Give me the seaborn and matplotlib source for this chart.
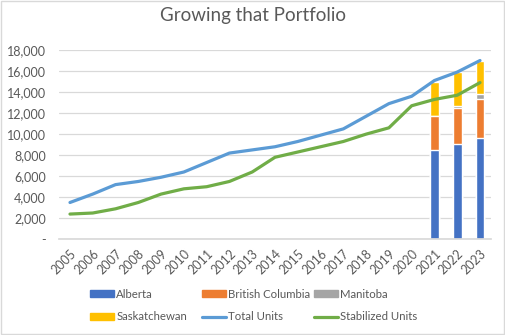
import numpy as np
import pandas as pd
import matplotlib
matplotlib.use("Agg")
import matplotlib.pyplot as plt
import seaborn as sns
from matplotlib.patches import Patch, Rectangle
from matplotlib.lines import Line2D
from matplotlib.ticker import FuncFormatter

years = [str(y) for y in range(2005, 2024)]
total_units = [3500, 4300, 5200, 5500, 5900, 6400, 7300, 8200, 8500, 8800,
               9300, 9900, 10500, 11700, 12900, 13600, 15100, 15900, 17000]
stabilized_units = [2400, 2500, 2900, 3500, 4300, 4800, 5000, 5500, 6400, 7800,
                    8300, 8800, 9300, 10000, 10600, 12700, 13300, 13700, 14900]
bar_years = ["2021", "2022", "2023"]
alberta = [8500, 9050, 9600]
british_columbia = [3250, 3450, 3700]
manitoba = [0, 200, 470]
saskatchewan = [3230, 3170, 3200]

c_ab, c_bc, c_mb, c_sk = "#4472C4", "#ED7D31", "#A5A5A5", "#FFC000"
c_total, c_stab = "#5B9BD5", "#70AD47"
txt = "#595959"

sns.set_theme(style="white")
plt.rcParams['font.family'] = ['Lato', 'DejaVu Sans']

fig = plt.figure(figsize=(5.06, 3.35), dpi=100)
ax = fig.add_axes([58.6 / 506, 1 - 239.3 / 335, (491.4 - 58.6) / 506, (239.3 - 50) / 335])

# stacked bars via cumulative layers (draw tallest first)
stack = np.vstack([alberta, british_columbia, manitoba, saskatchewan]).cumsum(axis=0)
layers = [(stack[3], c_sk), (stack[2], c_mb), (stack[1], c_bc), (stack[0], c_ab)]
for vals, col in layers:
    full = pd.Series(np.nan, index=years)
    full.loc[bar_years] = vals
    df = pd.DataFrame({"year": years, "v": full.values})
    sns.barplot(data=df, x="year", y="v", order=years, color=col, width=0.38,
                saturation=1, ax=ax, zorder=2)

xpos = np.arange(len(years))
sns.lineplot(x=xpos, y=total_units, color=c_total, linewidth=2.3, ax=ax, zorder=3)
sns.lineplot(x=xpos, y=stabilized_units, color=c_stab, linewidth=2.3, ax=ax, zorder=3)

ax.set_xlim(-0.5, len(years) - 0.5)
ax.set_ylim(0, 18000)
ax.set_yticks(np.arange(0, 18001, 2000))
ax.yaxis.set_major_formatter(FuncFormatter(lambda v, p: "-" if v == 0 else f"{int(v):,}"))
ax.set_xticks(xpos)
ax.set_xticklabels(years, rotation=45, ha="right", rotation_mode="anchor")
ax.tick_params(axis="both", labelsize=9, colors=txt, length=0, pad=6)
ax.tick_params(axis="y", pad=9)
ax.grid(axis="y", color="#D9D9D9", linewidth=0.9, zorder=0)
ax.set_axisbelow(True)
ax.set_xlabel("")
ax.set_ylabel("")
for s in ["top", "right", "left"]:
    ax.spines[s].set_visible(False)
ax.spines["bottom"].set_color("#D9D9D9")

fig.suptitle("Growing that Portfolio", x=0.5, y=1 - 15 / 335, va="center",
             fontsize=13.5, color=txt)

handles = [Patch(color=c_ab, label="Alberta"),
           Patch(color=c_bc, label="British Columbia"),
           Patch(color=c_mb, label="Manitoba"),
           Patch(color=c_sk, label="Saskatchewan"),
           Line2D([], [], color=c_total, lw=2.3, label="Total Units"),
           Line2D([], [], color=c_stab, lw=2.3, label="Stabilized Units")]
columns = [(90, [0, 3]), (202, [1, 4]), (314, [2, 5])]
for xpx, idx in columns:
    leg = fig.legend([handles[i] for i in idx], [handles[i].get_label() for i in idx],
                     ncol=1, loc="center left",
                     bbox_to_anchor=(xpx / 506, 1 - 305.5 / 335),
                     frameon=False, fontsize=8.2, handlelength=2.1, handleheight=0.6,
                     handletextpad=0.2, labelspacing=1.05, borderpad=0,
                     borderaxespad=0, labelcolor=txt)

fig.patches.append(Rectangle((0.002, 0.003), 0.995, 0.994, transform=fig.transFigure,
                             fill=False, edgecolor="#D9D9D9", linewidth=1))

fig.savefig("out.png", dpi=100)
